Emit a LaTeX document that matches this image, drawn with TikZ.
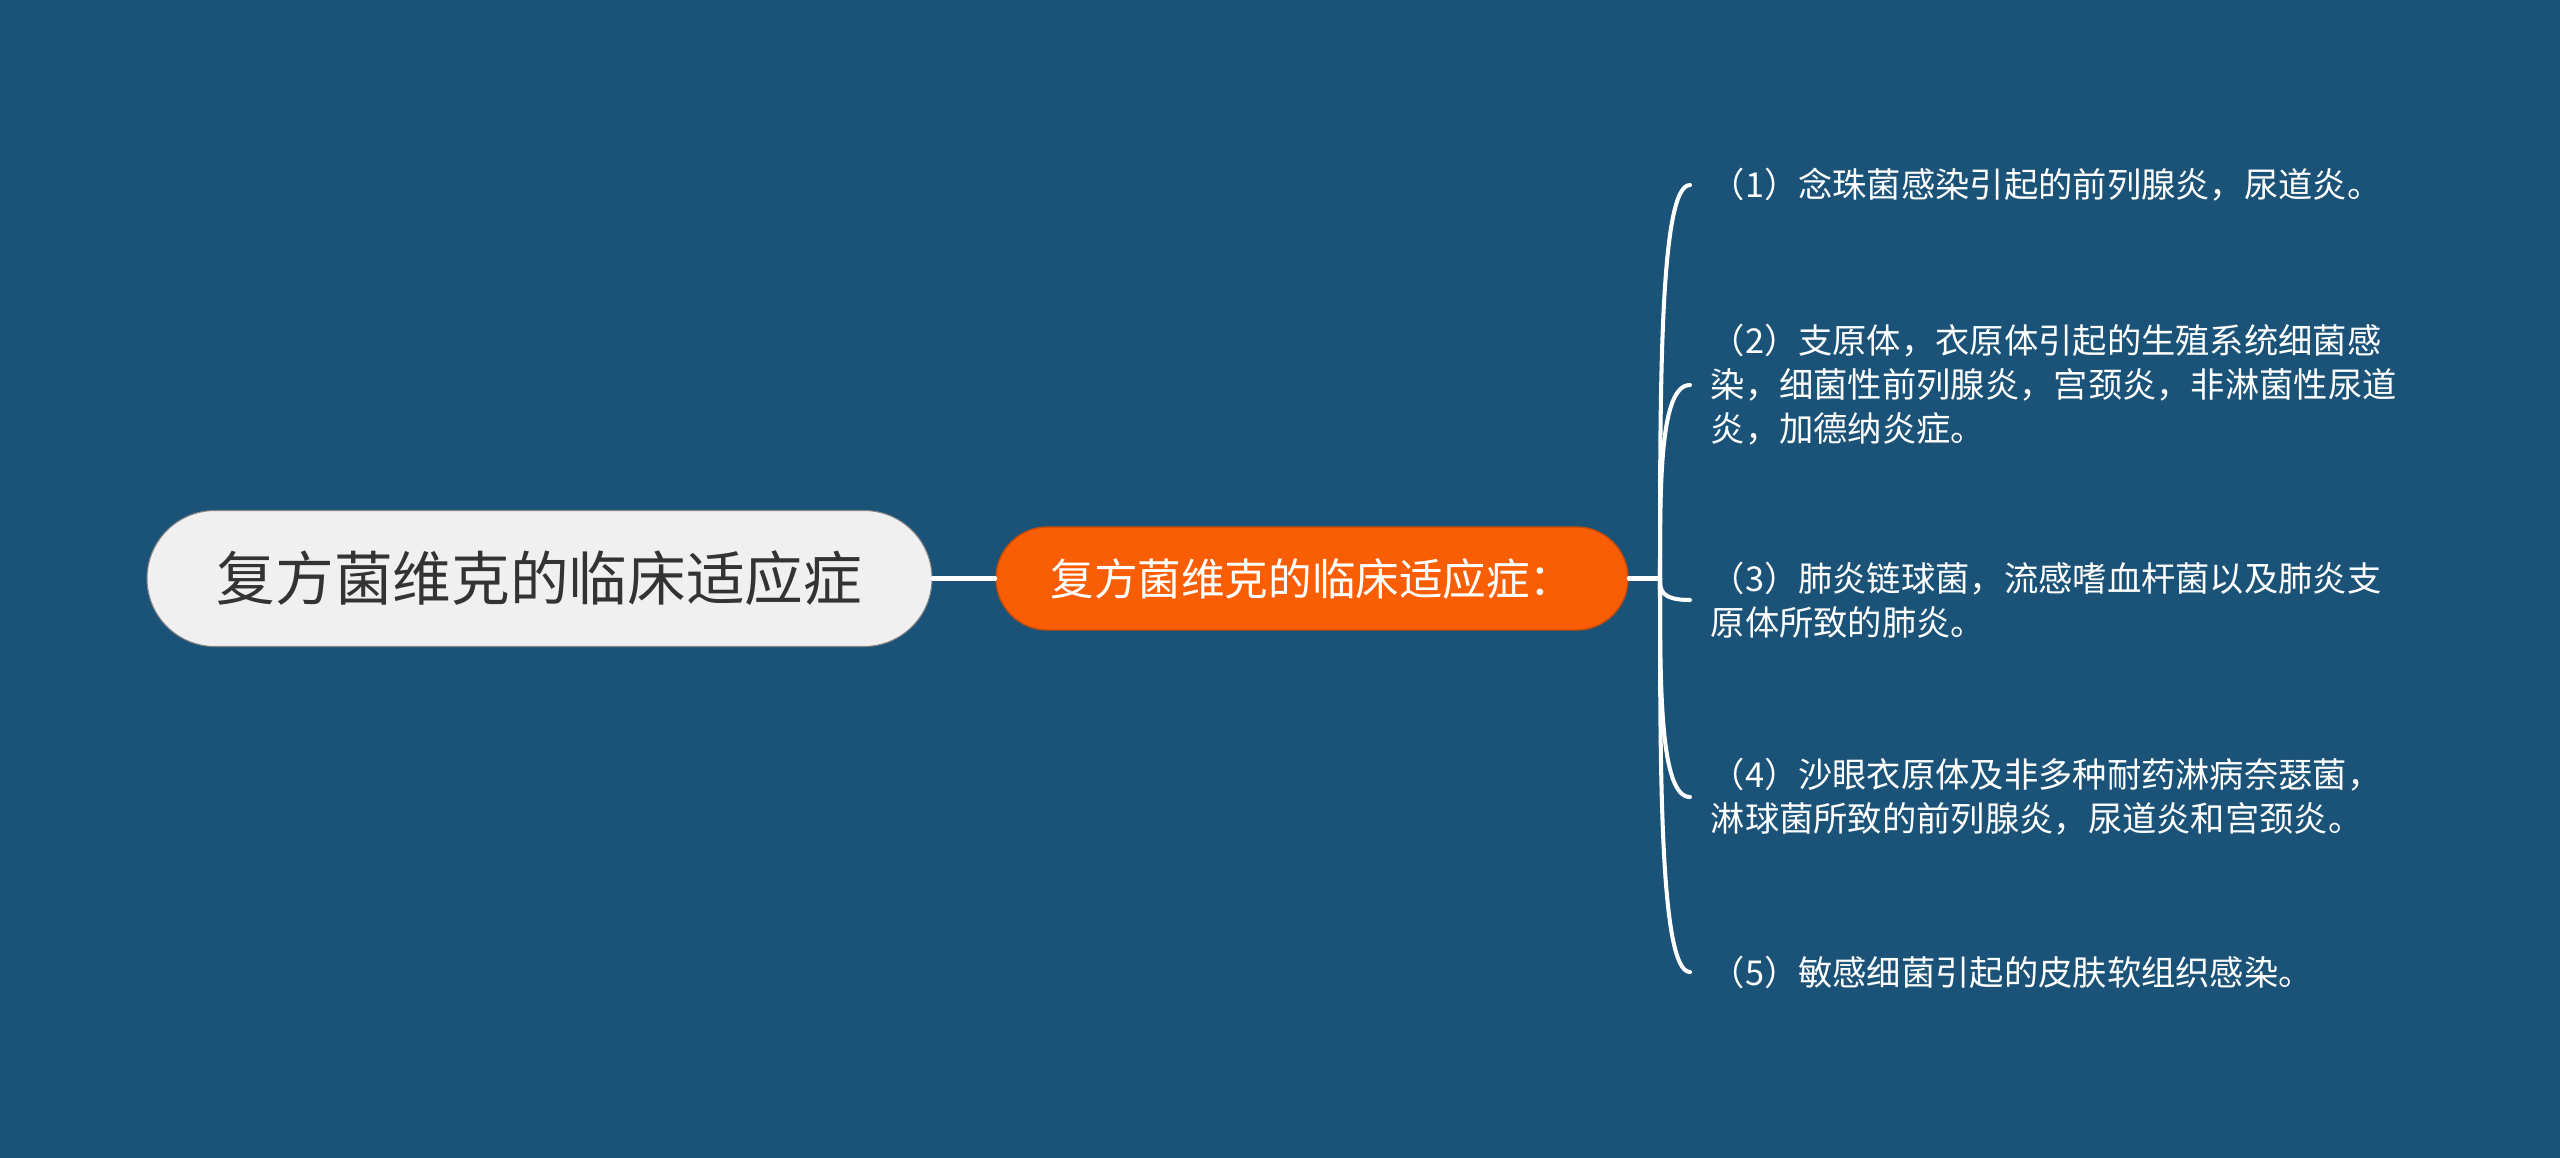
\documentclass[tikz,border=0pt]{standalone}
\usepackage{fontspec}
\setmainfont{Noto Sans CJK SC}
\usetikzlibrary{calc}

\definecolor{bgblue}{HTML}{1B5378}
\definecolor{topicorange}{HTML}{FA5E05}
\definecolor{rootgray}{HTML}{F0F0F0}
\definecolor{roottext}{HTML}{333333}

\tikzset{
    rootnode/.style={shape=rectangle, rounded corners=0.68cm, fill=rootgray, draw=rootgray!55!black, line width=0.3pt,
        minimum width=7.85cm, minimum height=1.36cm, text=roottext, font=\fontsize{16.7}{20}\selectfont},
    topicnode/.style={shape=rectangle, rounded corners=0.515cm, fill=topicorange, draw=topicorange!80!black, line width=0.4pt,
        minimum width=6.32cm, minimum height=1.03cm, text=white, font=\fontsize{12.4}{15}\selectfont},
    leafnode/.style={anchor=west, inner xsep=0.2cm, inner ysep=0pt, align=left, text=white,
        font=\fontsize{9.76}{12.52}\selectfont},
    branch/.style={draw=white, line width=1.15pt, line cap=round},
}

\begin{document}
\begin{tikzpicture}

                \useasboundingbox (0,0) rectangle (25.6,-11.57);
                \fill[bgblue] (-0.2,0.2) rectangle (25.8,-11.77);

                \node[rootnode] (root) at (5.395,-5.785) {复方菌维克的临床适应症};
                \node[topicnode] (topic) at (13.12,-5.785) {复方菌维克的临床适应症：};
                \coordinate (fork) at (16.60,-5.785);

                \node[leafnode] (1) at (16.90,-1.85) {（1）念珠菌感染引起的前列腺炎，尿道炎。};
                \node[leafnode] (2) at (16.90,-3.85) {（2）支原体，衣原体引起的生殖系统细菌感\\染，细菌性前列腺炎，宫颈炎，非淋菌性尿道\\炎，加德纳炎症。};
                \node[leafnode] (3) at (16.90,-6.00) {（3）肺炎链球菌，流感嗜血杆菌以及肺炎支\\原体所致的肺炎。};
                \node[leafnode] (4) at (16.90,-7.97) {（4）沙眼衣原体及非多种耐药淋病奈瑟菌，\\淋球菌所致的前列腺炎，尿道炎和宫颈炎。};
                \node[leafnode] (5) at (16.90,-9.72) {（5）敏感细菌引起的皮肤软组织感染。};

                \draw[branch] (root) -- (topic);
                \draw[branch] (topic) -- (fork);

                \draw[branch] (fork) .. controls ($(fork)!0.5!(fork|-1.west)$) and (fork|-1.west) .. (1.west);
                \draw[branch] (fork) .. controls ($(fork)!0.5!(fork|-2.west)$) and (fork|-2.west) .. (2.west);
                \draw[branch] (fork) .. controls ($(fork)!0.5!(fork|-3.west)$) and (fork|-3.west) .. (3.west);
                \draw[branch] (fork) .. controls ($(fork)!0.5!(fork|-4.west)$) and (fork|-4.west) .. (4.west);
                \draw[branch] (fork) .. controls ($(fork)!0.5!(fork|-5.west)$) and (fork|-5.west) .. (5.west);

            \end{tikzpicture}
\end{document}
